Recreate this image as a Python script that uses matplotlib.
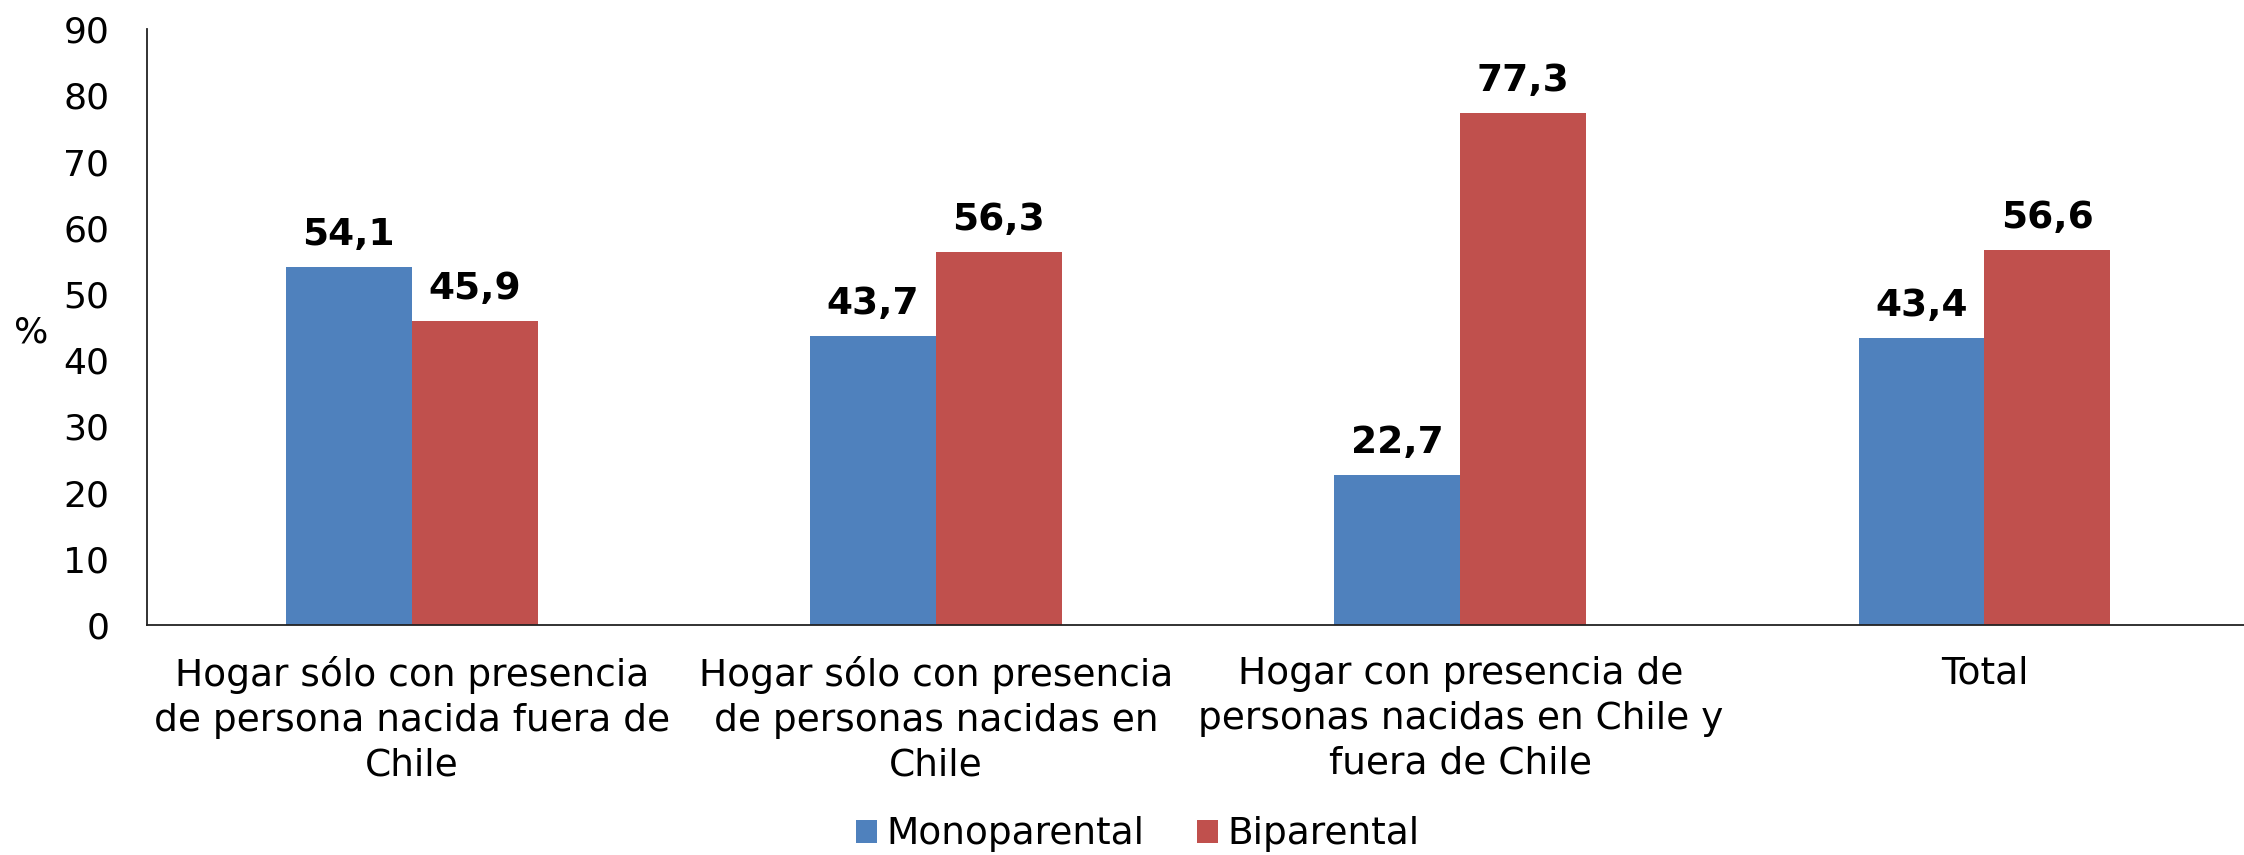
import numpy as np
import matplotlib
matplotlib.use("Agg")
import matplotlib.pyplot as plt

# --------- datos ---------
categorias = [
    "Hogar sólo con presencia\nde persona nacida fuera de\nChile",
    "Hogar sólo con presencia\nde personas nacidas en\nChile",
    "Hogar con presencia de\npersonas nacidas en Chile y\nfuera de Chile",
    "Total",
]
monoparental = [54.1, 43.7, 22.7, 43.4]
biparental = [45.9, 56.3, 77.3, 56.6]
series = ["Monoparental", "Biparental"]
colores = ["#4F81BD", "#C0504D"]
# -------------------------

plt.rcParams["font.family"] = ["DejaVu Sans"]

fig = plt.figure(figsize=(22.44, 8.55), dpi=100)
ax = fig.add_axes([0.0655, 0.269, 0.9345, 0.697])

x = np.arange(len(categorias))
w = 0.24
b1 = ax.bar(x - w / 2 + 0.005, monoparental, w, color=colores[0], label=series[0])
b2 = ax.bar(x + w / 2 + 0.005, biparental, w, color=colores[1], label=series[1])

for barras, vals in ((b1, monoparental), (b2, biparental)):
    for r, v in zip(barras, vals):
        ax.annotate(f"{v:.1f}".replace(".", ","),
                    (r.get_x() + r.get_width() / 2, v),
                    xytext=(0, 10), textcoords="offset points",
                    ha="center", va="bottom", fontsize=27, fontweight="bold")

ax.set_xlim(-0.5, 3.5)
ax.set_ylim(0, 90)
ax.set_yticks(np.arange(0, 91, 10))
ax.set_xticks(x + 0.005)
ax.set_xticklabels(categorias, fontsize=27, linespacing=1.32)
ax.tick_params(axis="y", length=0, pad=27, labelsize=26)
ax.tick_params(axis="x", length=0, pad=22)

for s in ("top", "right"):
    ax.spines[s].set_visible(False)
for s in ("left", "bottom"):
    ax.spines[s].set_linewidth(1.3)
    ax.spines[s].set_color("#222222")

ax.set_ylabel("%", rotation=0, fontsize=26, va="center")
ax.yaxis.set_label_coords(-0.055, 0.49)

fig.legend(handles=[b1, b2], labels=series, loc="center", ncol=2,
           bbox_to_anchor=(0.507, 0.024), frameon=False, fontsize=27,
           handlelength=0.55, handleheight=0.55, handletextpad=0.25,
           columnspacing=1.4)

fig.savefig("out.png", dpi=100)
